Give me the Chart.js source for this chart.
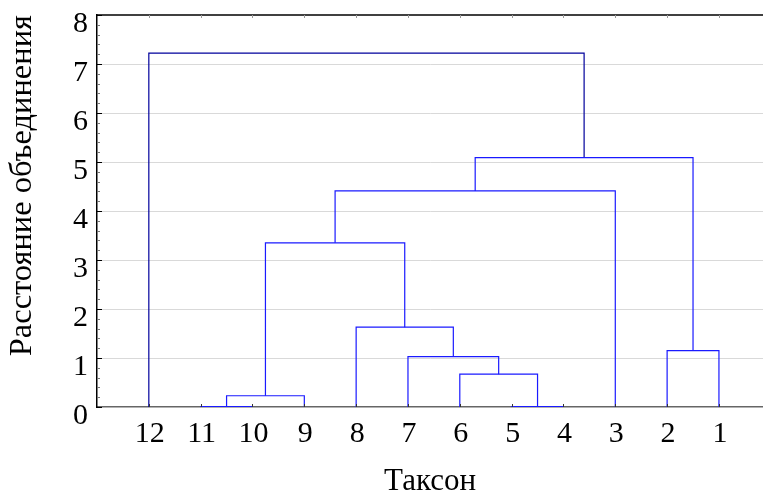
<!DOCTYPE html>
<html>
<head>
<meta charset="utf-8">
<script src="https://cdn.jsdelivr.net/npm/chart.js@4.4.1/dist/chart.umd.min.js"></script>
<style>
  html, body { margin: 0; padding: 0; background: #fff; }
  #wrap { width: 763px; height: 495px; }
</style>
</head>
<body>
<div id="wrap"><canvas id="dendro"></canvas></div>
<script>
// leaf order along the x axis (left to right)
const leaves = ['12', '11', '10', '9', '8', '7', '6', '5', '4', '3', '2', '1'];

// joins: mergeA[i] + mergeB[i] at mergeHeights[i]; 'mN' = result of join N
const mergeA = ['11', '5', 'm1', '6', '7', '2', '8', 'm3', 'm8', 'm9', '12'];
const mergeB = ['10', '4', '9', 'm2', 'm4', '1', 'm5', 'm7', '3', 'm6', 'm10'];
const mergeHeights = [0.01, 0.01, 0.23, 0.67, 1.03, 1.15, 1.63, 3.35, 4.41, 5.09, 7.22];

const yTicks = [0, 1, 2, 3, 4, 5, 6, 7, 8];

const serif = "'Liberation Serif', 'Times New Roman', serif";

// place nodes: leaf at its slot, join at the middle of its two children
const nodes = {};
leaves.forEach((lab, i) => { nodes[lab] = { x: i + 1, y: 0 }; });

const datasets = mergeA.map((a, i) => {
  const A = nodes[a];
  const B = nodes[mergeB[i]];
  const h = mergeHeights[i];
  nodes['m' + (i + 1)] = { x: (A.x + B.x) / 2, y: h };
  const last = i === mergeA.length - 1;
  return {
    data: [
      { x: A.x, y: A.y },
      { x: A.x, y: h },
      { x: B.x, y: h },
      { x: B.x, y: B.y },
    ],
    showLine: true,
    borderColor: last ? '#00009c' : '#1a1aff',
    borderWidth: 1.2,
    pointRadius: 0,
    tension: 0,
  };
});

// inward ticks + top frame line
const frame = {
  id: 'frame',
  afterDraw(chart) {
    const { ctx, chartArea: a, scales } = chart;
    ctx.save();
    ctx.strokeStyle = '#000';
    ctx.lineWidth = 1.5;
    ctx.beginPath();
    ctx.moveTo(a.left, a.top);
    ctx.lineTo(a.right, a.top);
    ctx.stroke();
    for (let k = 0; k <= 40; k++) {
      const py = Math.round(scales.y.getPixelForValue(k / 5)) + 0.5;
      const major = k % 5 === 0;
      ctx.strokeStyle = major ? '#000' : '#777';
      ctx.lineWidth = 1;
      ctx.beginPath();
      ctx.moveTo(a.left, py);
      ctx.lineTo(a.left + (major ? 5 : 3), py);
      ctx.stroke();
    }
    leaves.forEach((_, i) => {
      const px = Math.round(scales.x.getPixelForValue(i + 1)) + 0.5;
      ctx.strokeStyle = '#333';
      ctx.beginPath();
      ctx.moveTo(px, a.bottom);
      ctx.lineTo(px, a.bottom - 3);
      ctx.stroke();
      ctx.strokeStyle = '#999';
      ctx.beginPath();
      ctx.moveTo(px, a.top);
      ctx.lineTo(px, a.top + 3);
      ctx.stroke();
    });
    ctx.restore();
  },
};

new Chart(document.getElementById('dendro'), {
  type: 'scatter',
  data: { datasets },
  plugins: [frame],
  options: {
    responsive: true,
    maintainAspectRatio: false,
    animation: false,
    layout: { padding: { top: 15, right: 0, left: 0, bottom: 0 } },
    plugins: {
      legend: { display: false },
      tooltip: { enabled: false },
    },
    scales: {
      x: {
        type: 'linear',
        min: 0,
        max: 12.85,
        afterFit: (s) => { s.height = 88; s.paddingLeft = 0; s.paddingRight = 0; },
        border: { display: true, color: '#666', width: 1.5 },
        grid: { display: false, drawTicks: false },
        ticks: {
          stepSize: 1,
          includeBounds: false,
          autoSkip: false,
          maxRotation: 0,
          padding: 9,
          labelOffset: 1,
          color: '#000',
          font: { family: serif, size: 30 },
          callback: (v) => leaves[v - 1] ?? '',
        },
        title: {
          display: true,
          text: 'Таксон',
          color: '#000',
          font: { family: serif, size: 31 },
          padding: { top: 20, bottom: -5 },
        },
      },
      y: {
        min: 0,
        max: 8,
        afterFit: (s) => { s.width = 97; s.paddingTop = 0; s.paddingBottom = 0; },
        afterBuildTicks: (s) => { s.ticks = yTicks.map((v) => ({ value: v })); },
        border: { display: true, color: '#000', width: 1.5 },
        grid: {
          drawTicks: false,
          color: (c) => (c.tick && c.tick.value > 0 && c.tick.value < 8 ? '#d9d9d9' : 'rgba(0,0,0,0)'),
          lineWidth: 1,
        },
        ticks: {
          padding: 9,
          labelOffset: 9,
          color: '#000',
          font: { family: serif, size: 30 },
        },
        title: {
          display: true,
          text: 'Расстояние объединения',
          align: 'end',
          color: '#000',
          font: { family: serif, size: 32.5 },
          padding: { top: 3, bottom: 0 },
        },
      },
    },
  },
});
</script>
</body>
</html>
